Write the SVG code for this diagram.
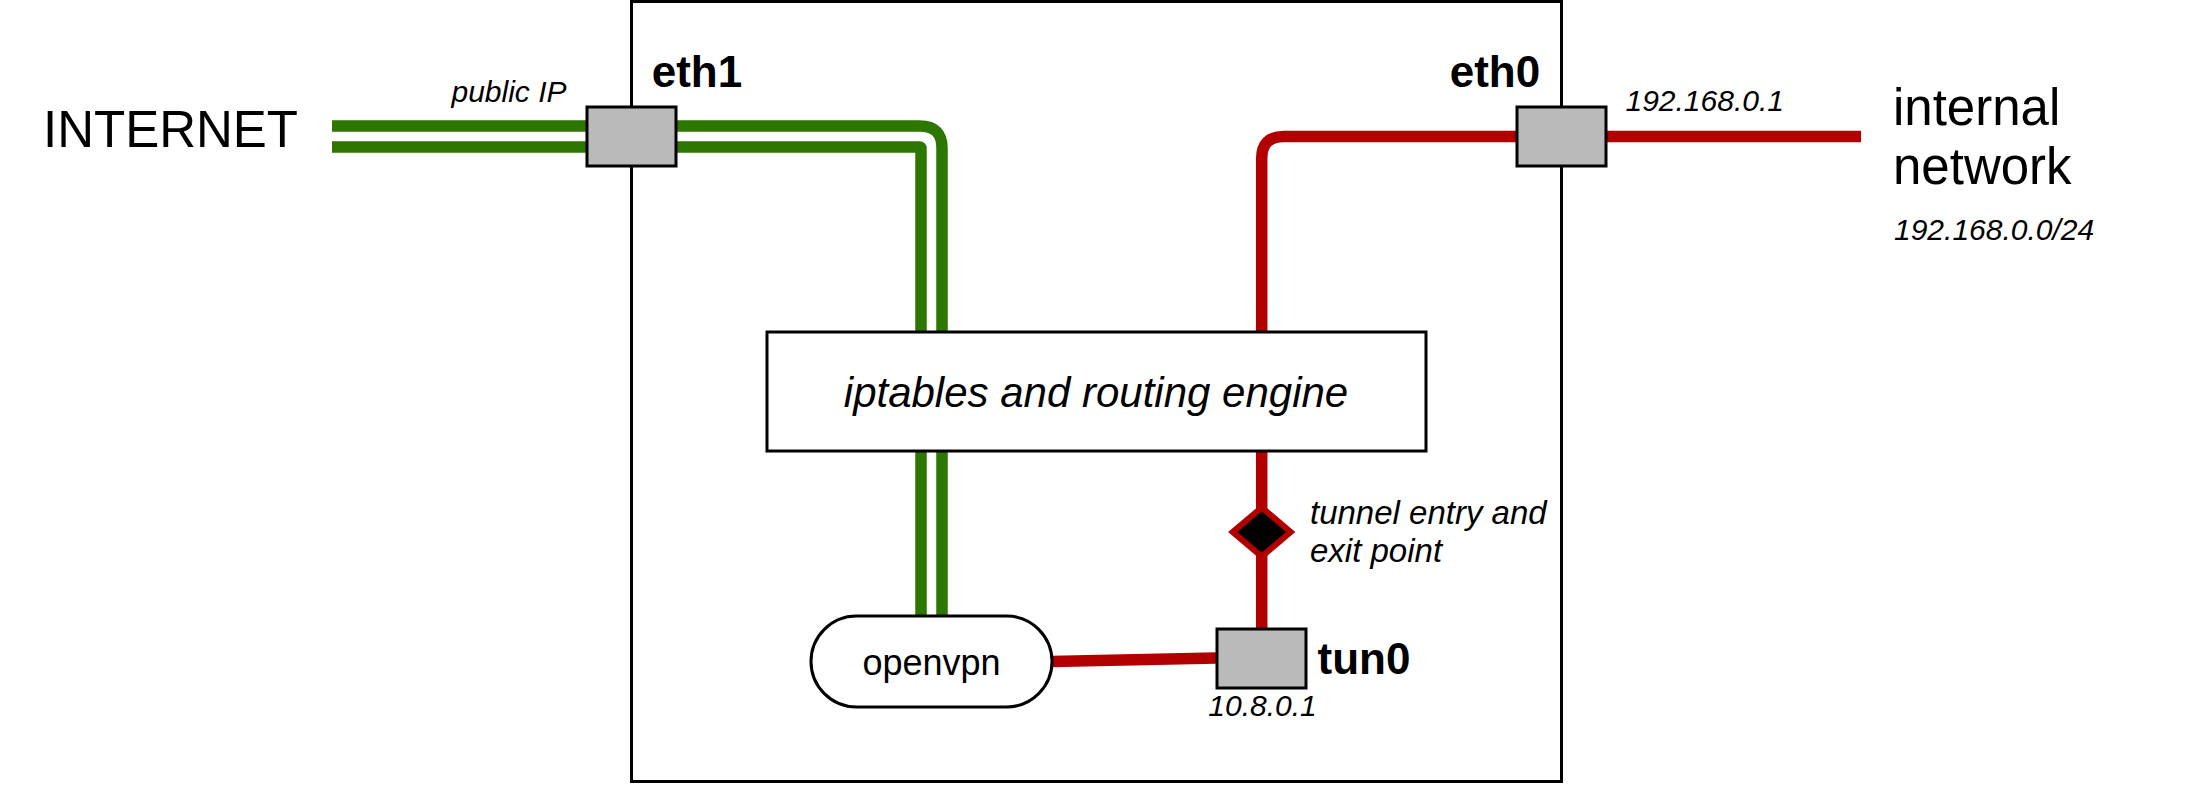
<svg xmlns="http://www.w3.org/2000/svg" width="2193" height="786" viewBox="0 0 2193 786">
<style>
text { font-family: "Liberation Sans", Arial, sans-serif; fill: #000; }
.big { font-size: 51px; }
.bold { font-size: 44px; font-weight: bold; }
.small { font-size: 30px; font-style: italic; }
.green { fill: none; stroke: #2D7600; stroke-width: 11.5; }
.red { fill: none; stroke: #B20000; stroke-width: 11.5; }
.port { fill: #BABABA; stroke: #000; stroke-width: 3; }
.box { fill: #fff; stroke: #000; stroke-width: 3; }
</style>
<rect width="2193" height="786" fill="#fff"/>
<g id="router">
<rect x="631.5" y="1.5" width="930" height="780" fill="none" stroke="#000" stroke-width="3"/>
</g>
<g id="connectors">
<path class="green" d="M332 126 H920 Q942 126 942 148 V616"/>
<path class="green" d="M332 147 H919.5 Q921 147 921 148.5 V616"/>
<path class="red" d="M1861 136.5 H1283.7 Q1261.7 136.5 1261.7 158.5 V628"/>
<path class="red" d="M1052 661.5 L1216 658"/>
</g>
<g id="internet">
<text class="big" x="170.5" y="147" text-anchor="middle">INTERNET</text>
</g>
<g id="internal-network">
<text class="big" x="1893" y="124.5">internal</text>
<text class="big" x="1893" y="184">network</text>
<text class="small" x="1894" y="240">192.168.0.0/24</text>
</g>
<g id="eth1">
<rect class="port" x="587" y="107" width="89" height="59"/>
<text class="bold" x="697" y="86.7" text-anchor="middle">eth1</text>
<text class="small" x="509" y="101.5" text-anchor="middle">public IP</text>
</g>
<g id="eth0">
<rect class="port" x="1517" y="107" width="89" height="59"/>
<text class="bold" x="1495" y="86.7" text-anchor="middle">eth0</text>
<text class="small" x="1704.7" y="110.5" text-anchor="middle">192.168.0.1</text>
</g>
<g id="iptables">
<rect class="box" x="767" y="332" width="659" height="119"/>
<text x="1096" y="406.7" text-anchor="middle" font-size="42" font-style="italic">iptables and routing engine</text>
</g>
<g id="tunnel-point">
<polygon points="1261.7,507.5 1290.7,532 1261.7,556.5 1232.7,532" fill="#000" stroke="#B20000" stroke-width="6"/>
<text x="1310" y="523.5" font-size="33" font-style="italic">tunnel entry and</text>
<text x="1310" y="562" font-size="33" font-style="italic">exit point</text>
</g>
<g id="openvpn">
<rect class="box" x="811" y="616" width="241" height="91" rx="45.5" ry="45.5"/>
<text x="931.5" y="675" text-anchor="middle" font-size="36">openvpn</text>
</g>
<g id="tun0">
<rect class="port" x="1217" y="629" width="89" height="59"/>
<text class="bold" x="1364" y="674" text-anchor="middle">tun0</text>
<text class="small" x="1262.5" y="716" text-anchor="middle">10.8.0.1</text>
</g>
</svg>
